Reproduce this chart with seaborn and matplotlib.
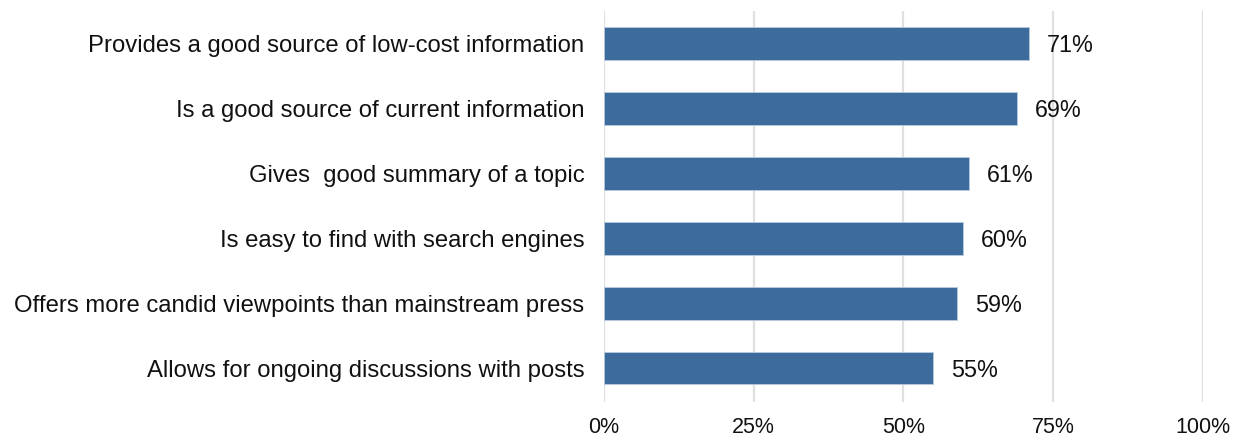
import matplotlib
matplotlib.use("Agg")
import matplotlib.pyplot as plt
import seaborn as sns
import pandas as pd

categories = [
    "Provides a good source of low-cost information",
    "Is a good source of current information",
    "Gives  good summary of a topic",
    "Is easy to find with search engines",
    "Offers more candid viewpoints than mainstream press",
    "Allows for ongoing discussions with posts",
]
values = [71, 69, 61, 60, 59, 55]
tick_values = [0, 25, 50, 75, 100]
tick_labels = ["0%", "25%", "50%", "75%", "100%"]

df = pd.DataFrame({"category": categories, "value": values})

sns.set_theme(style="white")
plt.rcParams["font.family"] = ["Liberation Sans", "DejaVu Sans"]

fig = plt.figure(figsize=(12.35, 4.37), dpi=100)
ax = fig.add_axes([0.489, 0.080, 0.485, 0.895])

sns.barplot(data=df, x="value", y="category", orient="h", color="#3d6b9c",
            saturation=1, width=0.5, edgecolor="#b9cade", linewidth=0.6,
            ax=ax, zorder=3)

for patch, v in zip(ax.patches, values):
    y = patch.get_y() + patch.get_height() / 2
    ax.annotate(f"{v}%", xy=(patch.get_width(), y), xytext=(13, -1.5),
                textcoords="offset points", va="center", ha="left",
                fontsize=16.8, color="#111111")

ax.set_xlim(0, 100)
ax.set_ylim(len(categories) - 0.48, -0.5)
ax.set_xticks(tick_values)
ax.set_xticklabels(tick_labels)
ax.xaxis.grid(True, color="#e0e0e0", linewidth=1.6, zorder=0)
ax.yaxis.grid(False)
for s in ax.spines.values():
    s.set_visible(False)
ax.tick_params(axis="x", length=0, pad=11, labelsize=15.5, labelcolor="#111111")
ax.tick_params(axis="y", length=0, pad=14, labelsize=17.2, labelcolor="#111111")
ax.set_xlabel("")
ax.set_ylabel("")

fig.savefig("out.png", dpi=100)
